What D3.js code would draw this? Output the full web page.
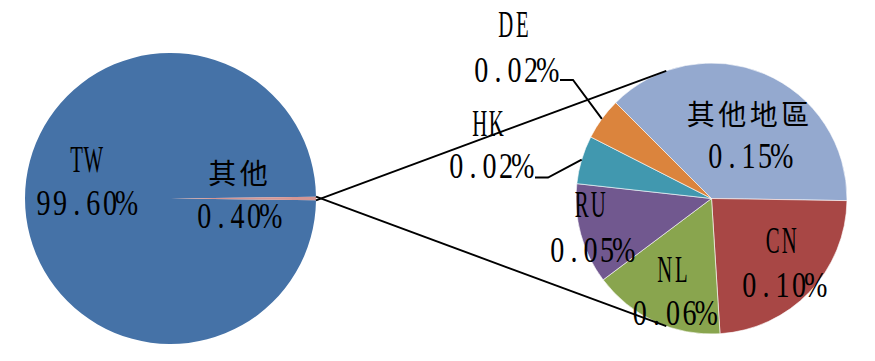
<!DOCTYPE html>
<html>
<head>
<meta charset="utf-8">
<script src="https://cdn.jsdelivr.net/npm/d3@7"></script>
<style>
html,body{margin:0;padding:0;background:#fff;}
svg{display:block;}
</style>
</head>
<body>
<svg id="chart" width="875" height="361"></svg>
<script>
// ---- data ----
const mainCategories = ["TW", "其他"];
const mainValues = [99.6, 0.4];
const mainLabels = ["99.60%", "0.40%"];
const mainColors = ["#4572A7", "#D49694"];

const subCategories = ["其他地區", "CN", "NL", "RU", "HK", "DE"];
const subValues = [0.151, 0.095, 0.063, 0.048, 0.023, 0.020];
const subLabels = ["0.15%", "0.10%", "0.06%", "0.05%", "0.02%", "0.02%"];
const subColors = ["#94A9CF", "#A84745", "#89A54E", "#71588F", "#4198AF", "#DB843D"];

// ---- layout ----
const W = 875, H = 361;
const svg = d3.select("#chart");
const deg = Math.PI / 180;

const left = {cx: 170.5, cy: 198.5, r: 145.5};
const right = {cx: 711.5, cy: 198.5, r: 135.5};

// main pie: "其他" slice centered at 3 o'clock
const otherSpan = mainValues[1] / d3.sum(mainValues) * 2 * Math.PI;
const mainPie = d3.pie().sort(null).value(d => d)
  .startAngle(Math.PI / 2 + otherSpan / 2)
  .endAngle(Math.PI / 2 + otherSpan / 2 + 2 * Math.PI);
const mainArcs = mainPie(mainValues);
const arcL = d3.arc().innerRadius(0).outerRadius(left.r);

const gL = svg.append("g").attr("transform", `translate(${left.cx},${left.cy})`);
gL.selectAll("path").data(mainArcs).join("path")
  .attr("d", arcL)
  .attr("fill", (d, i) => mainColors[i]);

// sub pie
const subPie = d3.pie().sort(null).value(d => d)
  .startAngle(-45 * deg).endAngle(315 * deg);
const subArcs = subPie(subValues);
const arcR = d3.arc().innerRadius(0).outerRadius(right.r);
const gR = svg.append("g").attr("transform", `translate(${right.cx},${right.cy})`);
gR.selectAll("path").data(subArcs).join("path")
  .attr("d", arcR)
  .attr("fill", (d, i) => subColors[i])
  .attr("stroke", "#ffffff")
  .attr("stroke-width", 0.6);

// connector lines
const pt = (c, r, a) => [c.cx + r * Math.sin(a), c.cy - r * Math.cos(a)];
const oArc = mainArcs[1];
const conn = [
  [pt(left, left.r, oArc.endAngle - 2 * Math.PI), pt(right, right.r, -19.5 * deg)],
  [pt(left, left.r, oArc.startAngle), pt(right, right.r, 199.5 * deg)]
];
svg.append("g").selectAll("line").data(conn).join("line")
  .attr("x1", d => d[0][0]).attr("y1", d => d[0][1])
  .attr("x2", d => d[1][0]).attr("y2", d => d[1][1])
  .attr("stroke", "#000").attr("stroke-width", 1.9);

// leader lines for HK and DE
const leaders = [
  {i: 5, x0: 560, y0: 80},
  {i: 4, x0: 535, y0: 177.5}
];
svg.append("g").selectAll("path").data(leaders).join("path")
  .attr("d", d => {
    const a = subArcs[d.i];
    const mid = (a.startAngle + a.endAngle) / 2;
    const p = pt(right, right.r, mid);
    return `M${d.x0},${d.y0}H${d.x0 + 13}L${p[0]},${p[1]}`;
  })
  .attr("fill", "none").attr("stroke", "#000").attr("stroke-width", 1.9);

// ---- text ----
const latinCell = 16.6;
function drawText(g, str, cx, base, kind, cell) {
  const chars = Array.from(str);
  const n = chars.length;
  const start = cx - n * cell / 2;
  const xs = chars.map((c, i) => start + (i + 0.5) * cell);
  const t = g.append("text")
    .attr("text-anchor", "middle")
    .attr("fill", "#000")
    .text(str);
  if (kind === "cjk") {
    t.attr("x", xs.join(" ")).attr("y", base)
      .attr("font-family", "'Noto Sans CJK TC','Noto Sans CJK SC',sans-serif")
      .attr("font-size", 28);
  } else {
    const sx = kind === "name" ? 0.56 : 0.78;
    const fs = kind === "name" ? 37 : 36;
    t.attr("x", xs.map(x => x / sx).join(" ")).attr("y", base)
      .attr("transform", `scale(${sx},1)`)
      .attr("font-family", "'Liberation Serif','Times New Roman',serif")
      .attr("font-size", fs);
  }
}
const isCJK = s => /[\u3400-\u9fff]/.test(s);

const labelsG = svg.append("g");
// positions of label blocks: [name center x, name baseline, value center x, value baseline]
const mainLabelPos = [[85, 172, 85, 215], [238, 184, 237.5, 228]];
const subLabelPos = [
  [748, 125, 748.5, 168],
  [781, 253, 782.5, 297],
  [673, 282, 673, 325],
  [590, 217, 590.5, 262],
  [488, 136, 489.5, 178],
  [514, 37, 514.5, 82]
];
function drawLabel(name, val, p) {
  const cj = isCJK(name);
  drawText(labelsG, name, p[0], p[1], cj ? "cjk" : "name", cj ? 31.5 : latinCell);
  drawText(labelsG, val, p[2], p[3], "value", latinCell);
}
mainCategories.forEach((c, i) => drawLabel(c, mainLabels[i], mainLabelPos[i]));
subCategories.forEach((c, i) => drawLabel(c, subLabels[i], subLabelPos[i]));
</script>
</body>
</html>
